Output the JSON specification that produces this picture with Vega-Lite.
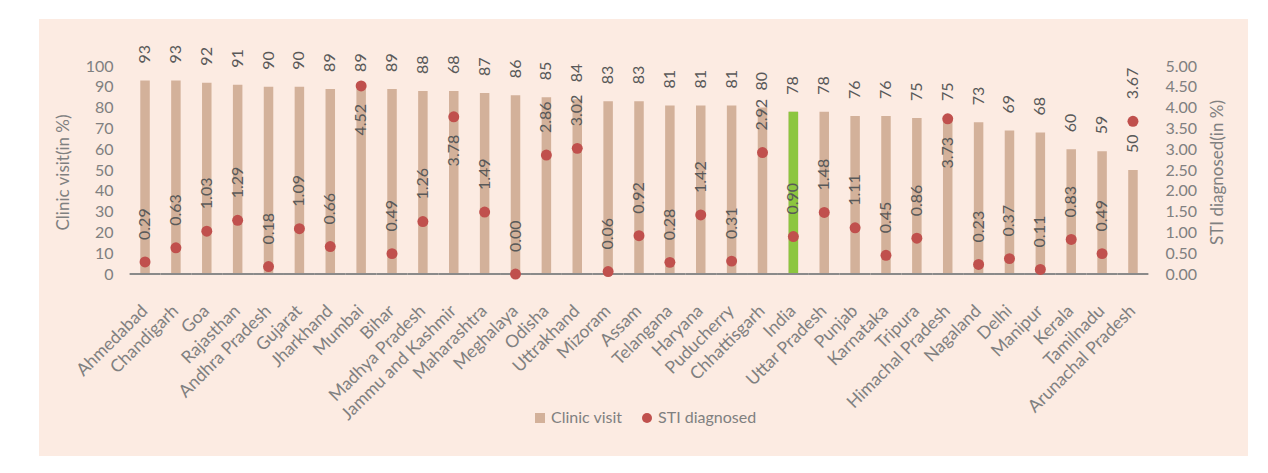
{
  "$schema": "https://vega.github.io/schema/vega-lite/v6.json",
  "width": 1209,
  "height": 437,
  "autosize": {"type": "none"},
  "padding": {"left": 39, "top": 19, "right": 20, "bottom": 17},
  "background": "#ffffff",
  "config": {
    "font": "Lato",
    "view": {"fill": "#FCEBE2", "stroke": null},
    "axis": {"grid": false, "ticks": false, "tickSize": 0, "domain": false, "labelFont": "Lato", "labelFontSize": 16, "labelColor": "#808080", "titleFont": "Lato", "titleFontSize": 17, "titleFontWeight": "normal", "titleColor": "#808080"}
  },
  "data": {"values": [
    {"state": "Ahmedabad", "clinic": 93, "clinic_label": 93, "sti": 0.29},
    {"state": "Chandigarh", "clinic": 93, "clinic_label": 93, "sti": 0.63},
    {"state": "Goa", "clinic": 92, "clinic_label": 92, "sti": 1.03},
    {"state": "Rajasthan", "clinic": 91, "clinic_label": 91, "sti": 1.29},
    {"state": "Andhra Pradesh", "clinic": 90, "clinic_label": 90, "sti": 0.18},
    {"state": "Gujarat", "clinic": 90, "clinic_label": 90, "sti": 1.09},
    {"state": "Jharkhand", "clinic": 89, "clinic_label": 89, "sti": 0.66},
    {"state": "Mumbai", "clinic": 89, "clinic_label": 89, "sti": 4.52},
    {"state": "Bihar", "clinic": 89, "clinic_label": 89, "sti": 0.49},
    {"state": "Madhya Pradesh", "clinic": 88, "clinic_label": 88, "sti": 1.26},
    {"state": "Jammu and Kashmir", "clinic": 88, "clinic_label": 68, "sti": 3.78},
    {"state": "Maharashtra", "clinic": 87, "clinic_label": 87, "sti": 1.49},
    {"state": "Meghalaya", "clinic": 86, "clinic_label": 86, "sti": 0.0},
    {"state": "Odisha", "clinic": 85, "clinic_label": 85, "sti": 2.86},
    {"state": "Uttrakhand", "clinic": 84, "clinic_label": 84, "sti": 3.02},
    {"state": "Mizoram", "clinic": 83, "clinic_label": 83, "sti": 0.06},
    {"state": "Assam", "clinic": 83, "clinic_label": 83, "sti": 0.92},
    {"state": "Telangana", "clinic": 81, "clinic_label": 81, "sti": 0.28},
    {"state": "Haryana", "clinic": 81, "clinic_label": 81, "sti": 1.42},
    {"state": "Puducherry", "clinic": 81, "clinic_label": 81, "sti": 0.31},
    {"state": "Chhattisgarh", "clinic": 80, "clinic_label": 80, "sti": 2.92},
    {"state": "India", "clinic": 78, "clinic_label": 78, "sti": 0.9},
    {"state": "Uttar Pradesh", "clinic": 78, "clinic_label": 78, "sti": 1.48},
    {"state": "Punjab", "clinic": 76, "clinic_label": 76, "sti": 1.11},
    {"state": "Karnataka", "clinic": 76, "clinic_label": 76, "sti": 0.45},
    {"state": "Tripura", "clinic": 75, "clinic_label": 75, "sti": 0.86},
    {"state": "Himachal Pradesh", "clinic": 75, "clinic_label": 75, "sti": 3.73},
    {"state": "Nagaland", "clinic": 73, "clinic_label": 73, "sti": 0.23},
    {"state": "Delhi", "clinic": 69, "clinic_label": 69, "sti": 0.37},
    {"state": "Manipur", "clinic": 68, "clinic_label": 68, "sti": 0.11},
    {"state": "Kerala", "clinic": 60, "clinic_label": 60, "sti": 0.83},
    {"state": "Tamilnadu", "clinic": 59, "clinic_label": 59, "sti": 0.49},
    {"state": "Arunachal Pradesh", "clinic": 50, "clinic_label": 50, "sti": 3.67}
  ]},
  "layer": [
    {
      "layer": [
        {
          "mark": {"type": "bar", "width": 9.5},
          "encoding": {
            "x": {"field": "state", "type": "nominal", "sort": null,
              "scale": {"type": "band", "range": [90.6, 1109.4], "paddingInner": 0, "paddingOuter": 0},
              "axis": {"orient": "bottom", "offset": -182, "title": null, "labelAngle": -45, "labelAlign": "right", "labelBaseline": "middle", "labelPadding": 34, "labelFontSize": 17.5, "labelOverlap": false, "labelLimit": 400}},
            "y": {"field": "clinic", "type": "quantitative",
              "scale": {"domain": [-87.5, 122.6], "nice": false, "zero": false},
              "axis": {"orient": "left", "offset": -91, "labelPadding": 17, "values": [0, 10, 20, 30, 40, 50, 60, 70, 80, 90, 100], "title": "Clinic visit(in %)", "titleAngle": 270, "titleX": -67, "titleY": 153, "titleAlign": "center", "titleBaseline": "middle"}},
            "color": {"datum": "Clinic visit", "type": "nominal",
              "scale": {"domain": ["Clinic visit", "STI diagnosed"], "range": ["#D3B19A", "#C0504D"]},
              "legend": {"title": null, "orient": "none", "legendX": 493, "legendY": 391, "direction": "horizontal", "symbolSize": 100, "symbolStrokeWidth": 0, "labelFont": "Lato", "labelFontSize": 16, "labelColor": "#808080", "labelOffset": 3, "columnPadding": 16,
                "encode": {"symbols": {"update": {"shape": {"signal": "datum.value === 'Clinic visit' ? 'square' : 'circle'"}}}}}}
          }
        },
        {
          "transform": [{"filter": "datum.state === 'India'"}],
          "mark": {"type": "bar", "width": 9.5, "color": "#8CC63F"},
          "encoding": {
            "x": {"field": "state", "type": "nominal", "sort": null},
            "y": {"field": "clinic", "type": "quantitative"}
          }
        },
        {
          "mark": {"type": "rule", "color": "#8A8A8A", "strokeWidth": 2, "xOffset": -15.44, "x2Offset": 15.44},
          "encoding": {
            "x": {"field": "state", "type": "nominal", "sort": null},
            "x2": {"field": "state"},
            "y": {"datum": 0}
          }
        },
        {
          "mark": {"type": "text", "angle": 270, "align": "left", "baseline": "middle", "dx": 17, "fontSize": 16, "color": "#595959", "font": "Lato"},
          "encoding": {
            "x": {"field": "state", "type": "nominal", "sort": null},
            "y": {"field": "clinic", "type": "quantitative"},
            "text": {"field": "clinic_label"}
          }
        }
      ]
    },
    {
      "layer": [
        {
          "mark": {"type": "point", "filled": true, "size": 120, "opacity": 1},
          "encoding": {
            "x": {"field": "state", "type": "nominal", "sort": null},
            "y": {"field": "sti", "type": "quantitative",
              "scale": {"domain": [-4.375, 6.13], "nice": false, "zero": false},
              "axis": {"orient": "right", "offset": -100, "labelPadding": 17, "values": [0, 0.5, 1, 1.5, 2, 2.5, 3, 3.5, 4, 4.5, 5], "format": ".2f", "title": "STI diagnosed(in %)", "titleAngle": 270, "titleX": 69, "titleY": 153, "titleAlign": "center", "titleBaseline": "middle"}},
            "color": {"datum": "STI diagnosed", "type": "nominal"}
          }
        },
        {
          "transform": [{"filter": "indexof(['Mumbai', 'Jammu and Kashmir', 'Himachal Pradesh'], datum.state) < 0"}],
          "mark": {"type": "text", "angle": 270, "align": "left", "baseline": "middle", "dx": 22, "fontSize": 16, "color": "#595959", "font": "Lato"},
          "encoding": {
            "x": {"field": "state", "type": "nominal", "sort": null},
            "y": {"field": "sti", "type": "quantitative"},
            "text": {"field": "sti", "format": ".2f"}
          }
        },
        {
          "transform": [{"filter": "indexof(['Mumbai', 'Jammu and Kashmir', 'Himachal Pradesh'], datum.state) >= 0"}],
          "mark": {"type": "text", "angle": 270, "align": "right", "baseline": "middle", "dx": -18, "fontSize": 16, "color": "#595959", "font": "Lato"},
          "encoding": {
            "x": {"field": "state", "type": "nominal", "sort": null},
            "y": {"field": "sti", "type": "quantitative"},
            "text": {"field": "sti", "format": ".2f"}
          }
        }
      ]
    }
  ],
  "resolve": {"scale": {"y": "independent"}}
}
